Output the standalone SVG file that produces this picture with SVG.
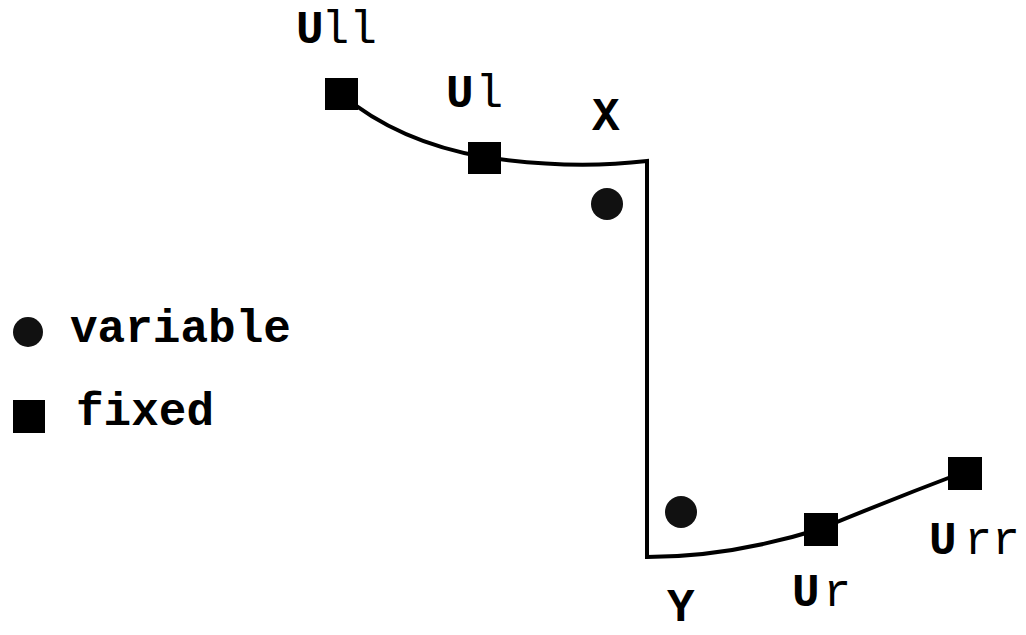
<svg xmlns="http://www.w3.org/2000/svg" width="1026" height="635" viewBox="0 0 1026 635">
<style>
.lbl{font-family:"Liberation Mono","Courier New",monospace;font-size:46px;fill:#000}
.b{font-weight:bold}
.sq{fill:#000}
.pt{fill:#111}
.ln{fill:none;stroke:#000;stroke-width:4;stroke-linejoin:miter}
</style>
<rect width="1026" height="635" fill="#fff"/>
<g id="connectors">
<path class="ln" d="M341,94 Q398,142 484,157 Q570,170 647,161 L647,557 Q730,557 820,529 Q890,500 964,472"/>
</g>
<g id="U11"><rect class="sq" x="325" y="78" width="33" height="32"/><text class="lbl" x="296" y="43"><tspan class="b">U</tspan><tspan dx="-2">ll</tspan></text></g>
<g id="U1"><rect class="sq" x="468" y="142" width="33" height="32"/><text class="lbl" x="446" y="107"><tspan class="b">U</tspan><tspan dx="2">l</tspan></text></g>
<g id="X"><circle class="pt" cx="607" cy="204" r="16"/><text class="lbl b" x="592" y="130">X</text></g>
<g id="Y"><circle class="pt" cx="681" cy="512" r="16"/><text class="lbl b" x="667" y="621">Y</text></g>
<g id="Ur"><rect class="sq" x="804" y="513" width="34" height="33"/><text class="lbl" x="792" y="606"><tspan class="b">U</tspan><tspan dx="4">r</tspan></text></g>
<g id="Urr"><rect class="sq" x="948" y="457" width="34" height="33"/><text class="lbl" x="929" y="554"><tspan class="b">U</tspan><tspan dx="8">rr</tspan></text></g>
<g id="legend">
<circle class="pt" cx="28" cy="332" r="15"/><text class="lbl b" x="70" y="342">variable</text>
<rect class="sq" x="13" y="400" width="32" height="33"/><text class="lbl b" x="76" y="425">fixed</text>
</g>
</svg>
